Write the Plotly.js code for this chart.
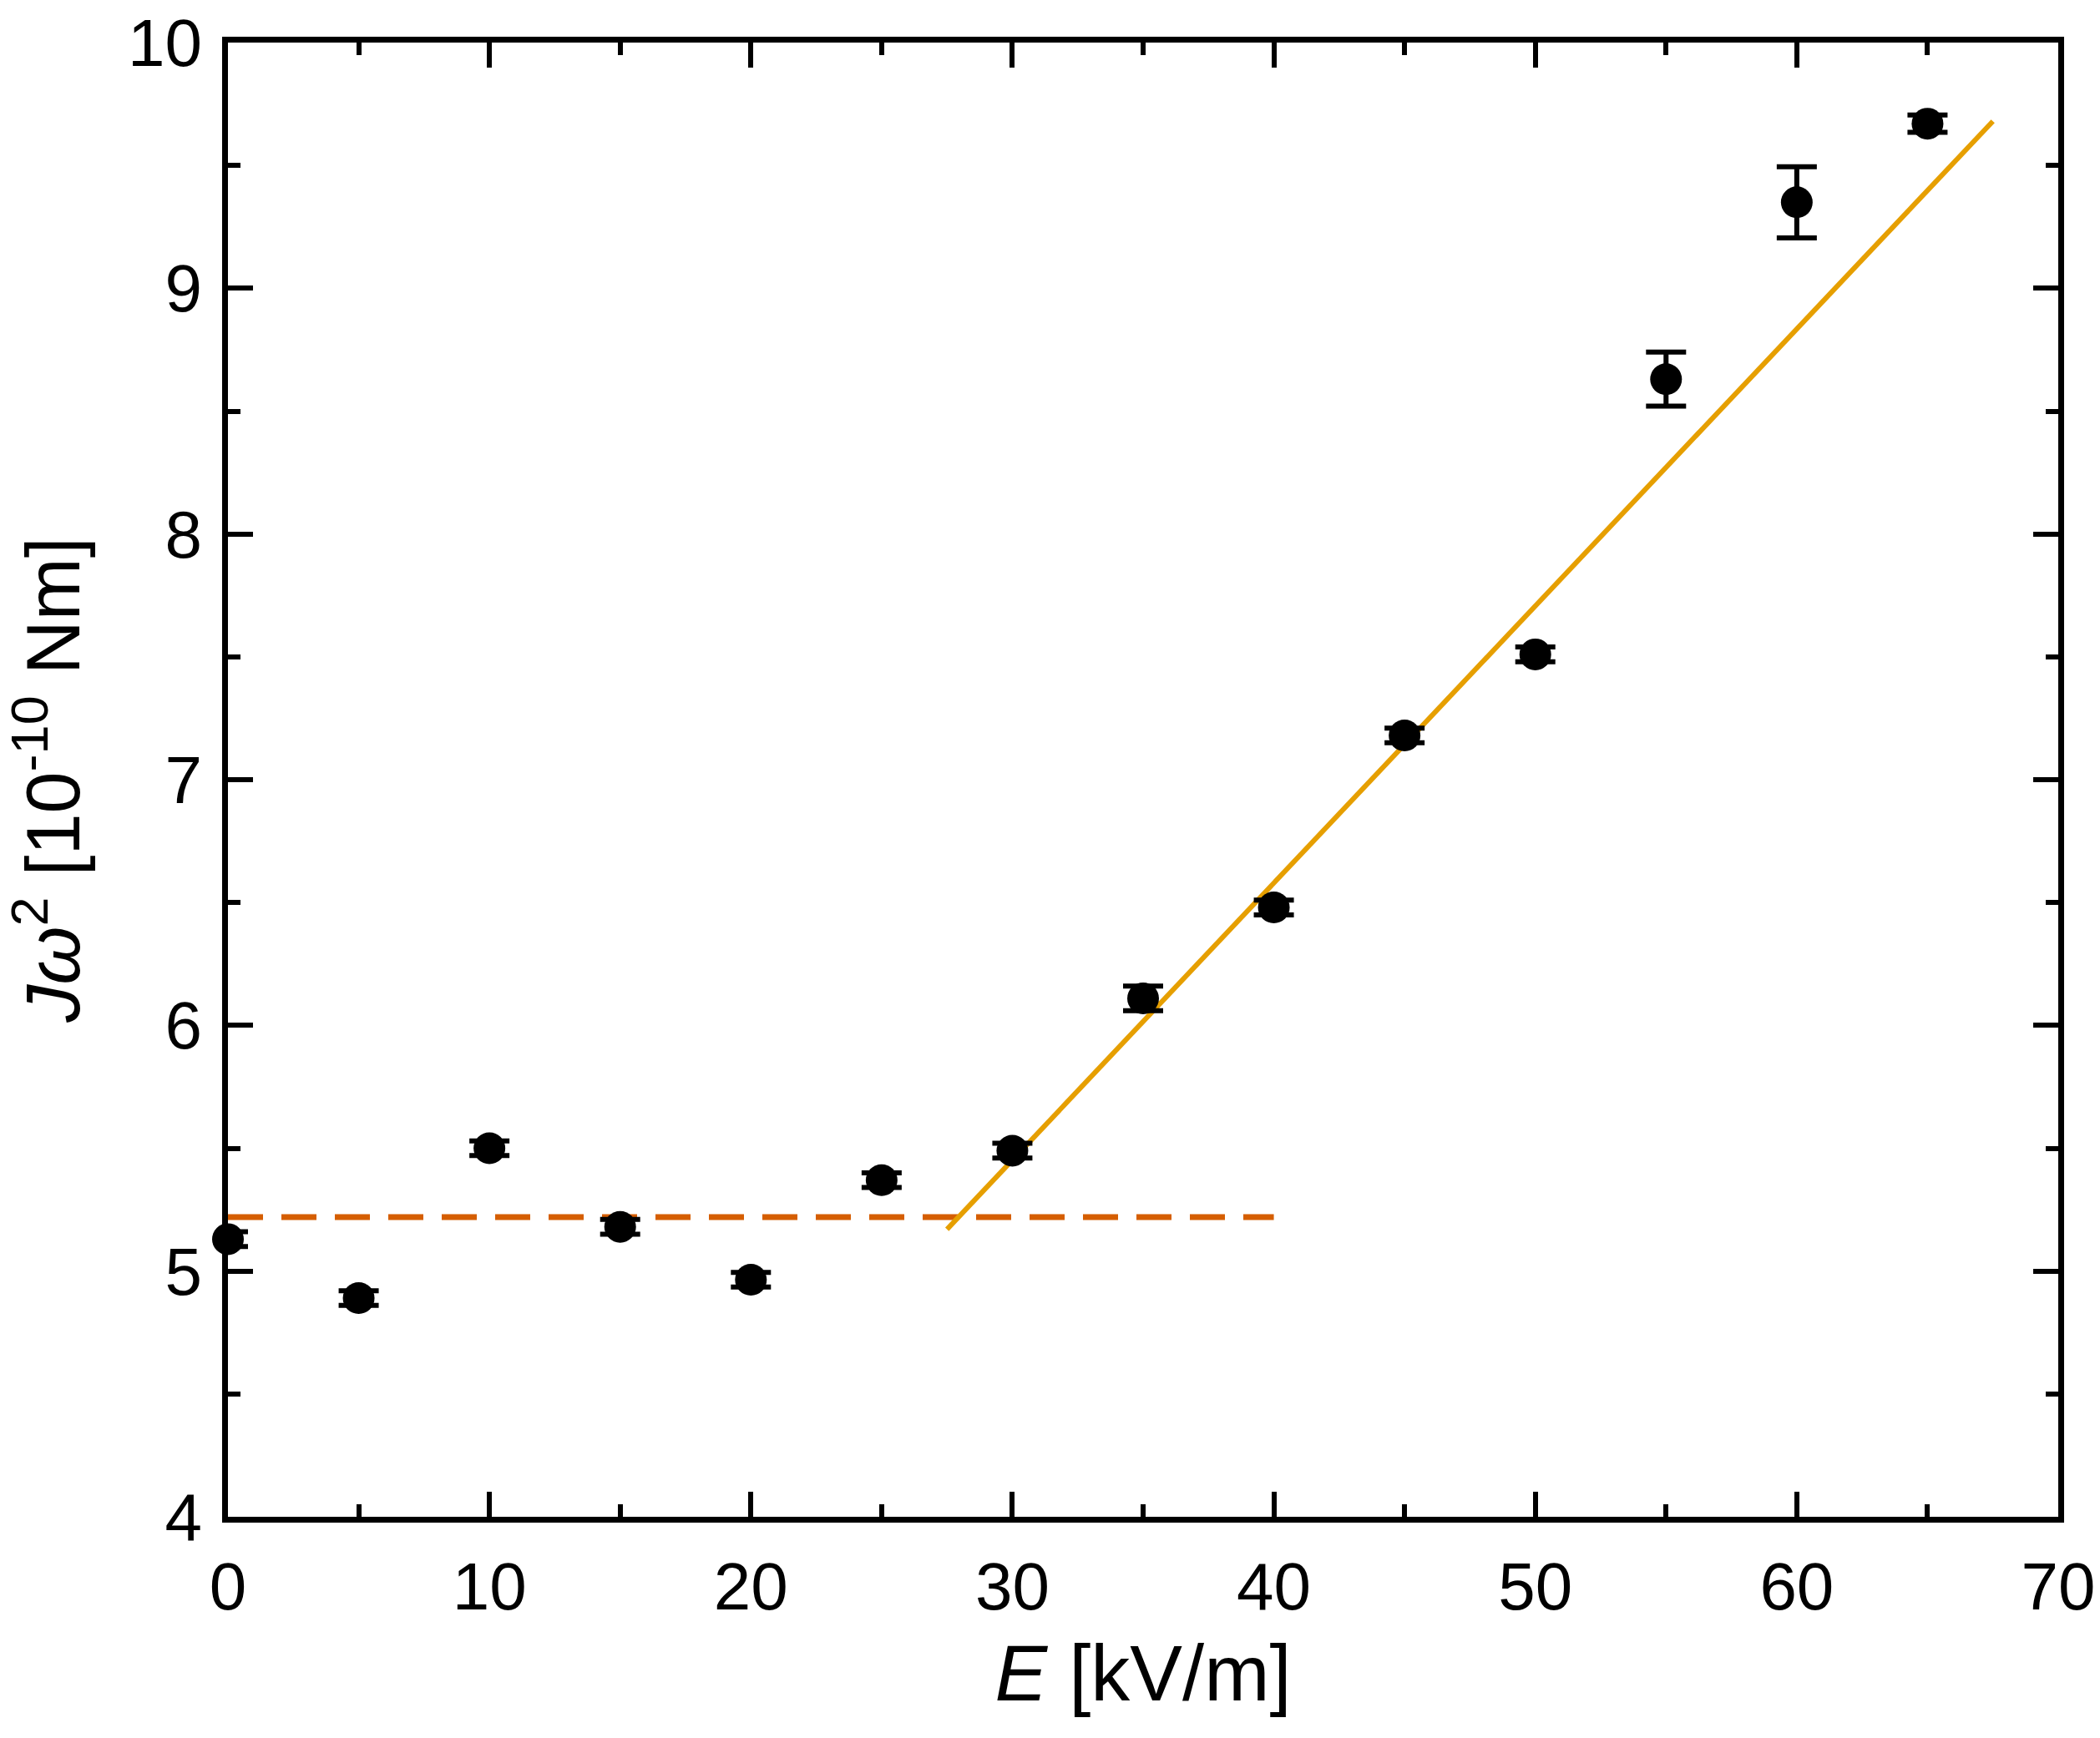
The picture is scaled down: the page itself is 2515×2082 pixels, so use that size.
<!DOCTYPE html>
<html>
<head>
<meta charset="utf-8">
<script src="https://cdn.plot.ly/plotly-3.0.1.min.js"></script>
<style>
  html, body { margin: 0; padding: 0; background: #fff; }
  #graph { width: 2515px; height: 2082px; }
</style>
</head>
<body>
<div id="graph"></div>
<script>
// measured field strengths (kV/m)
var fieldE = [0, 5, 10, 15, 20, 25, 30, 35, 40, 45, 50, 55, 60, 65];
// J*omega^2 values in 1e-10 Nm
var jOmega = [5.13, 4.89, 5.50, 5.18, 4.965, 5.37, 5.49, 6.11, 6.48, 7.18, 7.51, 8.63, 9.35, 9.67];
// error bar half-heights
var jErr = [0.03, 0.03, 0.03, 0.03, 0.03, 0.03, 0.03, 0.05, 0.03, 0.03, 0.03, 0.11, 0.145, 0.035];

// linear fit above threshold (solid)
var fitX = [27.5, 67.5];
var fitY = [5.17, 9.68];

// constant level below threshold (dashed)
var baseX = [0, 40];
var baseY = [5.22, 5.22];

var font = 'Liberation Sans, Arial, Helvetica, sans-serif';

var traces = [
    {
        x: baseX, y: baseY,
        mode: 'lines', type: 'scatter',
        line: {color: '#D55E00', width: 7, dash: '42px,22px'},
        hoverinfo: 'skip'
    },
    {
        x: fitX, y: fitY,
        mode: 'lines', type: 'scatter',
        line: {color: '#E69F00', width: 6},
        hoverinfo: 'skip'
    },
    {
        x: fieldE, y: jOmega,
        mode: 'markers', type: 'scatter',
        cliponaxis: false,
        marker: {color: '#000', size: 38, symbol: 'circle'},
        error_y: {type: 'data', array: jErr, visible: true, color: '#000', thickness: 6, width: 24}
    }
];

// shared axis styling: boxed frame with inside ticks on all four sides
function axisStyle(range, dtick, minorDtick) {
    return {
        range: range,
        dtick: dtick,
        tick0: 0,
        showgrid: false,
        zeroline: false,
        showline: true,
        linecolor: '#000',
        linewidth: 7,
        mirror: 'allticks',
        ticks: 'inside',
        ticklen: 30,
        tickwidth: 6,
        tickcolor: '#000',
        ticklabelstandoff: 8,
        tickfont: {family: font, size: 80, color: '#000'},
        minor: {ticks: 'inside', ticklen: 15, tickwidth: 6, tickcolor: '#000', dtick: minorDtick, showgrid: false},
        fixedrange: true
    };
}

var layout = {
    width: 2515,
    height: 2082,
    margin: {l: 273, r: 50, t: 51, b: 265},
    paper_bgcolor: '#fff',
    plot_bgcolor: '#fff',
    showlegend: false,
    font: {family: font, color: '#000'},
    xaxis: Object.assign(axisStyle([0, 70], 10, 5), {
        title: {text: '<i>E</i> [kV/m]', font: {family: font, size: 94, color: '#000'}, standoff: 30}
    }),
    yaxis: Object.assign(axisStyle([4, 10], 1, 0.5), {
        title: {text: '<i>Jω</i><sup>2</sup> [10<sup>-10</sup> Nm]', font: {family: font, size: 90, color: '#000'}, standoff: 38}
    })
};

Plotly.newPlot('graph', traces, layout, {displayModeBar: false, staticPlot: true});
</script>
</body>
</html>
